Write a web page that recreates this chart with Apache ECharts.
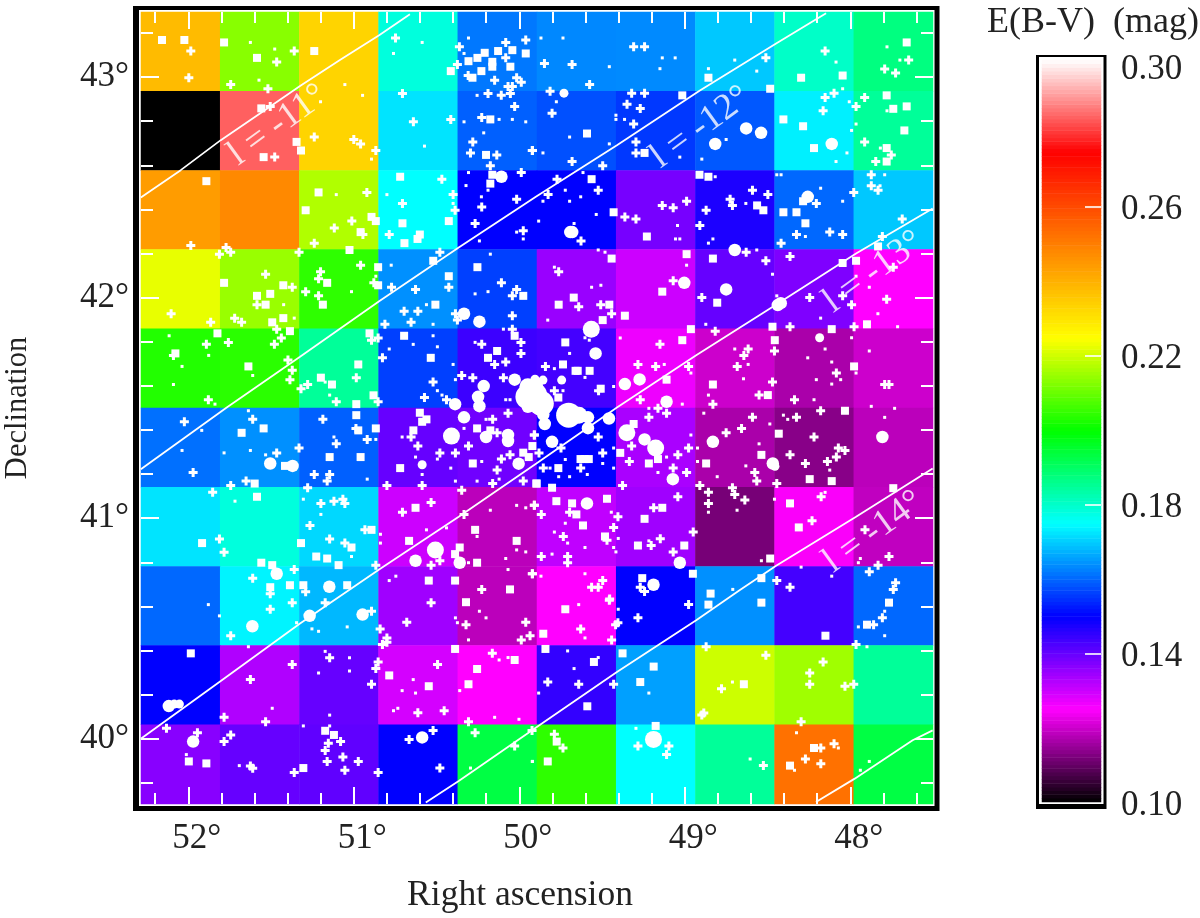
<!DOCTYPE html>
<html><head><meta charset="utf-8">
<style>html,body{margin:0;padding:0;background:#fff}#c{width:1200px;height:918px}</style>
<script src="https://cdn.jsdelivr.net/npm/echarts@6/dist/echarts.min.js"></script>
</head><body><div id="c"></div>
<script>
const raBins=['52.1','51.6','51.1','50.6','50.2','49.7','49.2','48.7','48.3','47.8'];
const decBins=['43.2','42.8','42.5','42.1','41.8','41.4','41.1','40.7','40.4','40.0'];
const ebvRow1=[.2383,.2133,.2334,.1783,.1618,.1633,.1635,.1696,.1804,.1875];
const ebvRow2=[.1000,.2844,.2334,.1724,.1594,.1578,.1555,.1586,.1735,.1850];
const ebvRow3=[.2444,.2483,.2173,.1750,.1500,.1500,.1383,.1473,.1602,.1696];
const ebvRow4=[.2227,.2150,.2045,.1641,.1563,.1350,.1300,.1400,.1375,.1250];
const ebvRow5=[.2033,.2041,.1850,.1563,.1441,.1433,.1267,.1200,.1167,.1200];
const ebvRow6=[.1610,.1641,.1594,.1400,.1390,.1500,.1333,.1167,.1133,.1183];
const ebvRow7=[.1724,.1783,.1712,.1300,.1183,.1312,.1343,.1117,.1245,.1188];
const ebvRow8=[.1602,.1739,.1680,.1343,.1183,.1250,.1500,.1641,.1433,.1602];
const ebvRow9=[.1500,.1327,.1400,.1292,.1250,.1450,.1657,.2200,.2157,.1850];
const ebvRow10=[.1367,.1400,.1406,.1500,.1933,.2045,.1750,.1850,.2530,.1933];
const ebvRows=[ebvRow1,ebvRow2,ebvRow3,ebvRow4,ebvRow5,ebvRow6,ebvRow7,ebvRow8,ebvRow9,ebvRow10];

const raMajor=[52,51,50,49,48];
const raMinor=[52.2,51.8,51.6,51.4,51.2,50.8,50.6,50.4,50.2,49.8,49.6,49.4,49.2,48.8,48.6,48.4,48.2,47.8,47.6];
const decMajor=[43,42,41,40];
const decMinor=[43.2,42.8,42.6,42.4,42.2,41.8,41.6,41.4,41.2,40.8,40.6,40.4,40.2,39.8];
const barLabels=[.10,.14,.18,.22,.26,.30];
const barTicks=[.14,.18,.22,.26];

const lon11=[[52.287,42.454],[52.046,42.578],[51.804,42.714],[51.567,42.835],[51.325,42.959],[51.084,43.077],[50.847,43.190],[50.661,43.285]];
const lon12=[[52.287,41.222],[51.768,41.502],[51.325,41.732],[50.847,41.984],[50.366,42.227],[49.900,42.457],[49.410,42.691],[48.911,42.938],[48.448,43.152],[48.146,43.289]];
const lon13=[[52.287,40.000],[51.804,40.262],[51.325,40.522],[50.847,40.767],[50.366,41.006],[49.897,41.248],[49.410,41.502],[48.931,41.739],[48.468,41.959],[47.965,42.200],[47.502,42.404]];
const lon14=[[50.565,39.711],[50.366,39.808],[49.881,40.060],[49.410,40.302],[48.931,40.537],[48.669,40.673],[48.448,40.784],[47.965,41.006],[47.502,41.225]];
const lon15=[[48.207,39.713],[47.973,39.819],[47.623,39.993],[47.502,40.038]];
const lonLabels=[[51.459,42.782,'l = -11°'],[48.905,42.772,'l = -12°'],[47.860,42.116,'l = -13°'],[47.860,40.937,'l = -14°']];

const starsSquare=[[52.159,43.168],[52.024,43.168],[51.784,43.157],[51.585,43.087],[51.239,43.118],[50.414,43.027],[50.307,43.072],[50.253,43.087],[50.209,43.110],[50.128,43.118],[50.042,43.122],[49.961,43.107],[50.163,43.069],[50.163,43.047],[50.229,43.027],[50.054,43.047],[50.283,42.997],[51.559,42.858],[51.346,42.706],[51.319,42.667],[51.545,42.637],[50.175,42.808],[50.201,42.647],[51.891,42.528],[50.720,42.548],[51.213,42.477],[51.291,42.396],[50.893,42.366],[50.867,42.347],[50.959,42.297],[50.706,42.337],[50.426,42.347],[50.601,42.286],[50.615,42.266],[50.694,42.247],[50.175,42.517],[50.163,42.557],[51.026,42.216],[50.853,42.138],[50.520,42.167],[50.426,42.097],[50.253,42.138],[51.161,42.067],[51.784,42.067],[51.426,42.056],[50.853,42.056],[51.585,42.008],[51.505,42.017],[49.976,42.008],
[48.857,42.997],[48.484,42.947],[48.297,42.997],[48.046,43.007],[47.659,43.157],[47.780,42.917],[47.659,42.867],[47.740,42.856],[47.673,42.758],[47.780,42.678],[47.780,42.617],[48.404,42.808],[48.285,42.777],[48.219,42.678],[49.015,42.917],[49.243,42.656],[49.591,42.744],[48.911,42.557],[48.857,42.548],[49.563,42.537],[49.430,42.387],[49.229,42.277],[48.563,42.418],[48.525,42.396],[48.404,42.387],[48.325,42.387],[48.271,42.337],[48.285,42.437],[48.989,42.197],[49.442,42.177],[48.046,42.157],[47.965,42.167],[47.832,42.232],[49.136,42.027],[48.830,42.177],[49.671,42.000],
[51.533,41.968],[51.426,41.907],[51.493,41.888],[51.386,41.848],[51.824,41.838],[51.187,41.968],[50.507,41.968],[50.905,41.838],[50.696,41.827],[51.637,41.688],[50.973,41.697],[50.535,41.727],[52.078,41.747],[50.189,41.727],[50.028,41.827],[50.134,41.758],[51.199,41.637],[51.132,41.606],[50.881,41.557],[50.985,41.517],[50.985,41.467],[50.867,41.407],[51.545,41.407],[51.678,41.387],[50.601,41.478],[50.640,41.398],[50.973,41.398],[51.146,41.277],[50.959,41.277],[50.255,41.407],[50.281,41.248],[50.720,41.227],[50.175,41.398],[49.921,41.327],[49.976,41.297],[49.943,41.277],[51.599,41.157],[51.585,41.097],[50.627,41.047],[50.267,40.947],[50.893,40.947],[50.666,40.897],[50.016,40.897],[51.319,40.887],[51.917,40.887],[51.014,40.867],[50.360,40.867],[50.388,40.837],[51.227,40.826],[51.161,40.817],[51.092,40.787],[51.559,40.798],[51.493,40.787],[50.255,40.798],[50.547,40.717],[50.388,40.717],[50.056,40.677],[51.505,40.687],[51.386,40.696],[51.305,40.696],[51.040,40.696],[49.897,41.157],[50.561,41.448],[50.587,41.437],[51.416,41.237],
[49.762,41.968],[49.456,41.968],[48.804,41.977],[49.362,41.918],[49.496,41.898],[48.470,41.868],[48.112,41.857],[47.899,41.879],[48.963,41.857],[49.722,41.797],[49.015,41.807],[48.456,41.807],[49.736,41.697],[49.647,41.668],[49.660,41.668],[49.575,41.668],[47.977,41.688],[48.830,41.606],[49.110,41.628],[48.498,41.558],[49.764,41.547],[49.508,41.587],[48.032,41.487],[49.309,41.427],[49.390,41.296],[48.537,41.287],[48.432,41.383],[48.871,41.248],[49.217,41.248],[49.162,41.268],[49.764,41.227],[49.605,41.268],[49.630,41.268],[49.580,41.268],[48.112,41.168],[48.245,41.177],[49.895,41.157],[49.802,41.138],[49.776,41.077],[49.681,41.067],[49.655,41.017],[49.615,40.967],[49.470,41.088],[49.136,41.047],[49.243,40.997],[48.364,41.067],[48.311,40.958],[49.482,40.917],[49.283,40.876],[49.003,40.876],[48.484,40.817],[47.740,41.136],[49.257,40.728],[48.951,40.748],[48.537,40.728],[48.844,40.658],
[51.985,40.387],[50.322,40.619],[50.388,40.407],[50.786,40.287],[50.255,40.316],[50.028,40.357],[50.307,40.247],[50.547,40.238],[51.173,40.036],[51.120,40.017],[51.997,39.897],[51.891,39.888],[51.305,39.867],
[49.722,40.587],[49.855,40.476],[49.842,40.407],[49.549,40.348],[49.589,40.147],[49.376,40.387],[49.188,40.327],[49.269,40.257],[48.857,40.608],[48.537,40.617],[48.150,40.467],[47.766,40.617],[47.899,40.517],[48.643,40.247],[49.176,40.058],[49.774,39.987],[49.828,39.897],[48.219,39.958],[48.364,39.878]];

const starsPlus=[[51.985,43.118],[51.997,42.997],[51.360,43.118],[51.466,43.068],[51.744,42.966],[51.519,42.947],[50.748,43.177],[50.362,43.137],[50.374,43.057],[50.082,43.157],[49.961,43.168],[50.082,43.087],[50.149,42.986],[50.016,42.997],[49.988,42.977],[50.068,42.957],[50.042,42.957],[50.309,43.007],[50.706,42.926],[50.189,42.926],[50.109,42.917],[50.054,42.926],[50.028,42.867],[50.227,42.817],[50.640,42.797],[50.414,42.808],[51.505,42.867],[51.239,42.728],[51.000,42.717],[50.959,42.697],[50.867,42.667],[51.478,42.637],[50.281,42.706],[50.295,42.656],[50.136,42.647],[50.175,42.598],[49.921,42.667],[49.988,42.567],[50.468,42.537],[50.400,42.467],[50.706,42.427],[50.388,42.396],[50.227,42.411],[50.016,42.446],[50.267,42.336],[50.921,42.477],[51.012,42.347],[51.118,42.316],[51.239,42.247],[50.945,42.286],[50.786,42.286],[49.976,42.303],[51.985,42.236],[51.772,42.227],[51.744,42.206],[51.812,42.197],[51.331,42.206],[50.480,42.206],[50.959,42.147],[51.201,42.117],[51.213,42.086],[51.533,42.106],[50.879,42.067],[51.372,42.047],[51.291,42.027],[51.213,42.008],[50.772,42.047],[50.627,42.037],[50.426,42.047],[50.108,42.067],[50.016,42.037],[50.042,42.008],
[49.309,43.137],[49.243,43.137],[49.848,43.062],[49.681,43.057],[49.575,42.966],[48.510,43.087],[48.152,43.118],[47.792,43.037],[47.726,43.018],[47.647,43.077],[49.814,42.936],[49.802,42.836],[49.321,42.927],[49.243,42.927],[49.349,42.877],[49.269,42.858],[49.309,42.787],[49.295,42.706],[49.295,42.656],[49.681,42.617],[49.496,42.598],[48.152,42.907],[48.098,42.927],[48.164,42.847],[47.965,42.867],[47.913,42.907],[47.913,42.706],[47.752,42.647],[47.846,42.617],[49.921,42.667],[49.772,42.537],[49.826,42.467],[49.523,42.487],[49.627,42.257],[49.362,42.366],[49.295,42.357],[49.136,42.418],[49.070,42.407],[48.989,42.437],[48.591,42.487],[48.498,42.467],[48.726,42.446],[48.712,42.418],[48.871,42.396],[48.909,42.327],[48.205,42.427],[47.979,42.477],[47.873,42.557],[47.873,42.507],[47.832,42.487],[47.686,42.357],[48.325,42.286],[48.124,42.297],[48.046,42.286],[48.418,42.247],[47.806,42.277],[48.629,42.206],[48.510,42.167],[48.364,42.186],[49.762,42.117],[49.070,42.077],[48.897,42.000],[48.245,42.000],[48.046,42.008],[47.740,42.138],[47.780,41.993],
[52.104,41.927],[51.865,41.888],[51.585,41.968],[51.720,41.907],[51.678,41.888],[51.466,41.857],[51.438,41.817],[51.480,41.788],[51.891,41.788],[51.758,41.797],[52.090,41.738],[51.398,41.717],[51.372,41.671],[51.386,41.628],[51.319,41.587],[51.279,41.606],[51.879,41.537],[51.106,41.528],[50.985,41.637],[50.853,41.528],[50.812,41.879],[50.696,41.938],[50.613,41.938],[50.654,41.888],[50.386,41.927],[50.374,41.898],[50.042,41.918],[50.893,41.807],[50.853,41.817],[50.827,41.727],[50.521,41.617],[50.573,41.547],[50.440,41.537],[50.227,41.788],[50.042,41.857],[49.990,41.797],[49.990,41.747],[50.082,41.708],[50.149,41.697],[50.348,41.647],[50.281,41.637],[50.096,41.637],[52.024,41.437],[51.611,41.448],[51.187,41.448],[51.971,41.207],[51.466,41.296],[51.331,41.318],[51.106,41.337],[51.239,41.198],[51.146,41.198],[51.161,41.168],[51.651,41.168],[51.744,41.148],[51.279,41.138],[50.987,41.407],[50.919,41.357],[50.654,41.368],[50.613,41.327],[50.480,41.296],[50.386,41.296],[50.307,41.327],[50.161,41.448],[50.068,41.476],[50.134,41.387],[49.909,41.377],[50.108,41.268],[50.056,41.287],[50.134,41.218],[50.161,41.157],[49.976,41.168],[50.587,41.148],[50.800,41.148],[50.348,41.127],[51.853,41.117],[51.199,41.067],[51.120,41.077],[51.066,41.086],[51.054,41.067],[50.533,41.071],[50.706,41.027],[50.334,41.017],[49.909,41.058],[51.265,40.967],[50.933,40.947],[51.146,40.906],[51.054,40.887],[51.812,40.906],[51.784,40.846],[50.867,40.787],[50.533,40.787],[50.480,40.807],[51.360,40.767],[51.611,40.728],[49.921,40.748],[50.227,40.677],[51.505,40.657],[51.291,40.666],
[49.641,41.959],[49.508,41.968],[49.442,41.927],[47.992,41.968],[48.364,41.868],[47.977,41.868],[48.816,41.848],[49.150,41.788],[48.617,41.767],[48.458,41.758],[48.643,41.738],[48.683,41.688],[49.283,41.697],[49.176,41.688],[48.977,41.688],[49.842,41.688],[48.470,41.617],[48.084,41.658],[47.792,41.606],[47.766,41.606],[49.788,41.578],[49.521,41.578],[48.551,41.558],[48.337,41.537],[49.269,41.537],[48.830,41.517],[48.179,41.487],[49.162,41.498],[49.110,41.476],[49.217,41.457],[48.591,41.457],[48.325,41.457],[48.657,41.407],[48.750,41.387],[48.219,41.368],[49.909,41.377],[49.523,41.368],[48.072,41.318],[48.032,41.307],[48.977,41.318],[49.321,41.327],[49.042,41.287],[49.496,41.296],[49.881,41.296],[49.748,41.318],[49.335,41.257],[49.855,41.227],[49.629,41.227],[49.070,41.227],[48.989,41.207],[48.364,41.287],[48.271,41.248],[48.084,41.277],[48.138,41.257],[48.577,41.207],[48.565,41.168],[48.444,41.157],[48.909,41.148],[49.376,41.148],[48.712,41.138],[48.698,41.107],[48.857,41.117],[48.857,41.067],[48.637,41.082],[49.042,41.097],[48.176,41.097],[49.188,41.047],[49.909,41.058],[49.867,41.017],[49.696,41.027],[49.404,41.006],[49.430,40.958],[48.231,40.988],[48.949,40.937],[49.734,40.917],[49.148,40.907],[49.203,40.876],[49.470,40.900],[49.070,40.847],[49.708,40.826],[49.708,40.798],[49.867,40.826],[47.911,40.947],[47.766,40.826],[47.832,40.787],[47.885,40.757],[49.921,40.748],[48.444,40.717],[48.364,40.687],[47.726,40.707],[47.740,40.677],[49.269,40.687],[49.243,40.667],[49.496,40.717],[49.563,40.687],[49.523,40.687],[49.454,40.633],
[50.893,40.578],[50.841,40.498],[50.800,40.457],[50.800,40.437],[50.827,40.427],[50.533,40.617],[50.680,40.528],[50.322,40.517],[49.961,40.528],[49.935,40.467],[49.988,40.448],[50.163,40.387],[51.146,40.367],[50.853,40.348],[50.867,40.318],[50.893,40.247],[51.372,40.337],[51.625,40.268],[50.494,40.337],[50.613,40.118],[50.454,40.127],[51.784,40.097],[51.533,40.077],[50.307,40.077],[52.132,40.047],[51.945,40.027],[51.744,40.017],[51.784,39.987],[51.154,39.980],[51.080,39.987],[51.173,39.947],[51.066,39.917],[51.161,39.897],[50.973,39.897],[51.054,39.857],[51.360,39.847],[50.853,39.847],[51.625,39.876],[51.611,39.866],[50.666,39.997],[50.521,40.037],[50.480,39.867],[50.267,40.027],[50.028,39.967],[49.923,40.037],[51.505,40.587],[51.372,40.617],[51.173,40.617],[51.744,40.467],
[49.456,40.628],[48.977,40.608],[49.283,40.548],[49.404,40.526],[49.418,40.517],[49.629,40.498],[49.442,40.448],[47.859,40.517],[47.806,40.548],[47.965,40.427],[48.871,40.417],[48.510,40.378],[48.164,40.348],[48.245,40.298],[48.245,40.247],[48.032,40.238],[47.979,40.247],[48.778,40.227],[48.885,40.117],[48.897,40.107],[48.297,40.077],[49.828,40.257],[49.641,40.247],[49.430,40.247],[49.788,40.020],[49.736,39.958],[49.283,39.967],[49.096,39.967],[49.110,39.928],[48.525,39.878],[48.098,39.977],[48.178,39.958],[48.271,39.908],[48.178,39.887]];

const starsDot=[[51.625,43.157],[51.478,43.127],[51.573,42.986],[50.587,43.157],[50.760,43.107],[50.307,43.177],[50.334,43.107],[51.054,42.966],[50.947,42.917],[51.201,42.888],[50.893,42.628],[50.573,42.687],[50.255,42.917],[50.334,42.797],[50.122,42.808],[50.042,42.808],[49.961,42.797],[50.215,42.747],[50.307,42.567],[50.322,42.508],[50.189,42.487],[50.229,42.457],[50.800,42.467],[51.106,42.467],[50.400,42.427],[50.016,42.297],[49.976,42.266],[50.241,42.257],[50.175,42.197],[50.774,42.147],[50.189,42.027],[50.267,42.017],[50.867,42.097],[51.014,42.027],
[49.869,43.177],[49.736,43.177],[49.456,43.047],[49.136,43.087],[49.058,43.087],[49.150,43.038],[48.857,43.038],[48.698,43.077],[48.565,43.027],[48.086,43.068],[47.778,43.137],[47.700,43.077],[49.776,42.888],[49.416,42.827],[49.416,42.808],[49.364,42.808],[49.696,42.728],[49.456,42.697],[49.857,42.656],[49.030,42.637],[48.897,42.628],[48.750,42.717],[48.046,42.947],[48.006,42.888],[47.778,42.847],[47.965,42.787],[47.992,42.758],[48.020,42.656],[48.086,42.617],[47.818,42.678],[48.816,42.548],[48.444,42.557],[48.418,42.557],[47.792,42.557],[47.820,42.507],[49.615,42.567],[49.722,42.487],[49.857,42.437],[49.696,42.437],[49.629,42.457],[49.535,42.377],[49.883,42.347],[49.669,42.336],[49.044,42.327],[49.056,42.266],[49.030,42.266],[48.631,42.427],[48.830,42.266],[48.857,42.247],[48.179,42.496],[48.046,42.437],[48.271,42.277],[48.565,42.216],[49.523,42.216],[49.482,42.206],[49.788,42.138],[48.989,42.147],[49.563,42.047],[49.507,42.056],[48.470,42.106],[48.444,42.008],[47.965,42.097],[47.885,42.047],
[52.116,41.827],[51.877,41.738],[52.038,41.688],[52.090,41.606],[51.839,41.517],[51.611,41.647],[51.637,41.487],[51.424,41.968],[51.360,41.907],[50.521,41.879],[50.561,41.968],[50.521,41.827],[50.641,41.788],[50.495,41.777],[50.786,41.767],[50.400,41.697],[50.386,41.628],[50.495,41.578],[50.467,41.558],[51.173,41.617],[51.146,41.558],[50.267,41.797],[50.096,41.857],[50.082,41.537],[50.056,41.537],[51.919,41.398],[52.038,41.307],[51.784,41.296],[51.625,41.307],[51.533,41.287],[51.120,41.368],[50.867,41.357],[50.919,41.177],[50.708,41.368],[50.627,41.277],[50.495,41.268],[50.414,41.227],[50.587,41.198],[50.386,41.168],[50.255,41.168],[50.122,41.177],[50.227,41.257],[50.334,41.407],[50.201,41.448],[51.718,41.077],[51.305,41.086],[51.199,41.017],[50.561,40.947],[50.440,40.956],[50.175,41.036],[50.016,41.058],[49.961,41.047],[50.255,40.917],[50.082,40.817],[50.068,40.767],[49.961,40.847],[50.016,40.856],[51.014,40.826],[50.839,40.927],[50.839,40.887],[50.786,40.717],[50.746,40.737],[50.307,40.798],
[49.828,41.898],[48.873,41.879],[47.833,41.927],[47.714,41.868],[48.179,41.907],[49.390,41.817],[49.577,41.807],[49.603,41.818],[49.696,41.747],[49.788,41.678],[49.603,41.638],[49.430,41.597],[49.736,41.578],[49.124,41.697],[48.963,41.658],[48.698,41.767],[48.617,41.697],[48.645,41.632],[48.857,41.558],[49.015,41.517],[48.257,41.727],[48.152,41.767],[48.112,41.708],[48.058,41.628],[48.205,41.628],[48.112,41.608],[48.219,41.537],[47.885,41.758],[47.992,41.818],[47.965,41.658],[47.873,41.507],[47.732,41.498],[47.792,41.457],[48.885,41.476],[49.217,41.498],[48.963,41.377],[48.923,41.318],[48.486,41.427],[48.404,41.467],[48.378,41.448],[48.551,41.337],[49.110,41.277],[48.923,41.257],[48.124,41.218],[49.162,41.207],[48.804,41.188],[48.631,41.237],[49.696,41.188],[49.762,41.188],[49.814,41.227],[49.589,41.198],[49.496,41.248],[49.430,41.227],[49.430,41.318],[49.722,41.266],[48.458,41.086],[48.684,41.036],[48.152,41.117],[48.857,41.027],[49.444,41.027],[49.722,40.977],[49.788,40.937],[49.603,40.867],[49.402,40.908],[49.430,40.867],[49.416,40.847],[49.802,40.837],[49.708,40.887],[49.217,40.897],[48.537,40.807],[47.939,40.817],[47.951,40.798],[48.297,40.778],[48.112,40.737],[49.869,40.737],[49.603,40.748],[48.710,40.677],
[51.879,40.608],[51.812,40.557],[51.637,40.417],[51.346,40.526],[51.253,40.498],[51.213,40.487],[51.040,40.507],[50.386,40.548],[50.374,40.526],[50.241,40.578],[50.201,40.548],[50.307,40.448],[51.173,40.396],[51.026,40.367],[51.026,40.307],[51.213,40.298],[50.641,40.268],[50.708,40.218],[50.627,40.207],[50.360,40.218],[50.122,40.357],[50.068,40.368],[51.493,40.138],[51.146,40.107],[50.760,40.127],[50.734,40.138],[50.149,40.097],[50.002,40.088],[51.305,40.058],[51.146,40.058],[52.012,39.928],[51.692,39.878],[50.295,39.867],[49.921,39.897],
[49.641,40.608],[49.402,40.587],[49.603,40.457],[47.951,40.507],[47.792,40.578],[47.792,40.467],[47.899,40.417],[49.708,40.398],[49.523,40.368],[49.669,40.318],[49.883,40.207],[49.217,40.207],[48.712,40.257],[49.295,40.047],[48.325,40.027],[48.072,39.958],[48.337,39.857],[49.921,39.897],[48.605,39.908],[47.885,39.897],[47.939,39.857]];

const starsDiscMid=[[50.108,42.548],[48.629,42.767],[48.539,42.747],[48.112,42.697],[48.816,42.697],[48.257,42.457],[49.692,42.297],[49.680,42.297],[48.698,42.216],[48.750,42.037],[49.003,42.067],[50.334,41.927],[50.241,41.891],[50.215,41.599],[50.249,41.550],[50.241,41.508],[50.388,41.517],[50.028,41.628],[49.897,41.611],[50.334,41.457],[50.201,41.368],[50.068,41.377],[50.068,41.350],[50.004,41.247],[51.505,41.248],[51.370,41.237],[51.466,40.748],[51.148,40.689],[50.627,40.807],[50.360,40.798],[49.539,41.747],[49.273,41.629],[49.362,41.608],[49.110,41.528],[49.846,41.427],[49.585,41.457],[49.585,41.408],[49.458,41.452],[49.243,41.357],[49.802,41.346],[48.830,41.346],[49.072,41.177],[49.591,41.067],[49.030,40.798],[47.806,41.368],[49.189,40.698],[48.468,41.248],[48.438,41.966],[48.420,41.975],[51.613,40.510],[51.267,40.557],[50.947,40.563],[51.971,39.987],[50.587,40.006],[52.118,40.148],[49.948,41.505],[49.855,41.470],[49.905,41.510]];
const starsDiscSmall=[[49.730,42.927],[50.587,41.242],[48.185,41.818],[49.857,41.626],[49.744,41.626],[48.455,41.235],[52.054,40.157],[52.085,40.157],[49.905,41.630],[49.860,41.560]];
const starsDiscLarge=[[49.189,39.997],[50.507,40.856],[49.176,41.318],[49.350,41.387],[49.565,41.857],[50.410,41.372],[49.948,41.596],[49.907,41.596],[49.640,41.467]];
const starsDiscHuge=[[49.948,41.550],[49.907,41.558],[49.867,41.520],[49.702,41.467]];

const plusPath='path://M3 0H6V3H9V6H6V9H3V6H0V3H3Z';
const starSeries=(data,symbol,size)=>({type:'scatter',xAxisIndex:0,yAxisIndex:0,data,symbol,symbolSize:size,z:4,silent:true,
  itemStyle:{color:'#fff',opacity:1},clip:true});
const lonSeries=d=>({type:'line',xAxisIndex:0,yAxisIndex:0,data:d,symbol:'none',z:3,silent:true,clip:true,
  lineStyle:{color:'#fff',width:1.8}});

const TXT='#222',FONT='"Liberation Serif"';
const RA=[47.5,52.286],DEC=[39.704,43.295];
const tickAxis=(base,vals,len,extra)=>Object.assign({type:'value',inverse:base.inverse,min:base.min,max:base.max,position:base.position,
  axisLine:{show:false,onZero:false},splitLine:{show:false},
  axisTick:{show:true,inside:true,length:len,customValues:vals,lineStyle:{color:'#fff',width:2}},
  axisLabel:{show:false},z:6},extra||{});
const X={inverse:true,min:RA[0],max:RA[1]},Y={min:DEC[0],max:DEC[1]};

const heat=[];ebvRows.forEach((r,j)=>r.forEach((v,i)=>heat.push([i,j,v])));

// colour-bar ramp: one band per step of the scale, low to high
const RAMP_STEPS=200;
const rampLevels=[];for(let i=0;i<RAMP_STEPS;i++)rampLevels.push(+(0.10+(i+0.5)*0.2/RAMP_STEPS).toFixed(5));
const rampCells=rampLevels.map((v,i)=>[0,i,v]);

const option={
 animation:false,backgroundColor:'#fff',
 graphic:{elements:[
  {type:'rect',z:0,shape:{x:133,y:6,width:806.5,height:805},style:{fill:'#000'}},
  {type:'rect',z:0,shape:{x:139,y:10,width:795.5,height:796},style:{fill:'#fff'}},
  {type:'rect',z:0,shape:{x:1036,y:55,width:70.5,height:754},style:{fill:'#000'}},
  {type:'rect',z:0,shape:{x:1039,y:57,width:64.5,height:747},style:{fill:'#fff'}},
  {type:'text',z:5,x:987,y:5,style:{text:'E(B-V)  (mag)',font:'36px "Liberation Serif"',fill:TXT}}
 ]},
 grid:[{left:141,top:12,width:792,height:792,outerBoundsMode:'none'},
       {left:1042,top:58,width:59,height:745,outerBoundsMode:'none'},
       {left:1042,top:60,width:59,height:742,outerBoundsMode:'none'}],
 xAxis:[
  tickAxis(Object.assign({position:'bottom'},X),raMajor,17,{
    axisLabel:{show:true,customValues:raMajor,formatter:v=>v+'°',color:TXT,fontFamily:FONT,fontSize:35,margin:17,padding:[0,0,0,17]},
    name:'Right ascension',nameLocation:'middle',nameGap:74,nameTextStyle:{color:TXT,fontFamily:FONT,fontSize:35.5,padding:[0,34,0,0]}}),
  tickAxis(Object.assign({position:'bottom'},X),raMinor,11),
  tickAxis(Object.assign({position:'top'},X),raMajor,17),
  tickAxis(Object.assign({position:'top'},X),raMinor,11),
  {type:'category',data:raBins,show:false,gridIndex:0},
  {type:'value',gridIndex:1,min:0,max:1,show:false,axisLine:{onZero:false}},
  {type:'category',data:['E(B-V)'],show:false,gridIndex:2}
 ],
 yAxis:[
  tickAxis(Object.assign({position:'left'},Y),decMajor,18,{
    axisLabel:{show:true,customValues:decMajor,formatter:v=>v+'°',color:TXT,fontFamily:FONT,fontSize:35,margin:12,padding:[2,0,0,0]},
    name:'Declination',nameLocation:'middle',nameGap:108,nameTextStyle:{color:TXT,fontFamily:FONT,fontSize:30.5}}),
  tickAxis(Object.assign({position:'left'},Y),decMinor,12),
  tickAxis(Object.assign({position:'right'},Y),decMajor,18),
  tickAxis(Object.assign({position:'right'},Y),decMinor,12),
  {type:'category',data:decBins,inverse:true,show:false,gridIndex:0},
  {type:'value',gridIndex:1,min:.10,max:.30,position:'right',z:8,
   axisLine:{show:false,onZero:false},splitLine:{show:false},
   axisTick:{show:true,inside:true,length:16,customValues:barTicks,lineStyle:{color:'#fff',width:1.6}},
   axisLabel:{show:true,customValues:barLabels,margin:20,color:TXT,fontFamily:FONT,fontSize:35,padding:[6,0,0,0],
     formatter:v=>Math.abs(v-.3)<1e-6?'{t|'+v.toFixed(2)+'}':v.toFixed(2),
     rich:{t:{color:TXT,fontFamily:FONT,fontSize:35,padding:[18,0,0,0]}}}},
  {type:'category',data:rampLevels,show:false,gridIndex:2}
 ],
 visualMap:{type:'continuous',seriesIndex:[0,1],min:.10,max:.30,calculable:false,show:false,
  inRange:{color:['#000000','#ff00ff','#0000ff','#00ffff','#00ff00','#ffff00','#ff8000','#ff0000','#ffffff']}},
 series:[
  {type:'heatmap',xAxisIndex:4,yAxisIndex:4,data:heat,z:1,silent:true,progressive:0,itemStyle:{borderWidth:0}},
  {type:'heatmap',xAxisIndex:6,yAxisIndex:6,data:rampCells,z:1,silent:true,progressive:0,itemStyle:{borderWidth:0}},
  lonSeries(lon11),lonSeries(lon12),lonSeries(lon13),lonSeries(lon14),lonSeries(lon15),
  starSeries(starsSquare,'rect',8),
  starSeries(starsPlus,plusPath,9),
  starSeries(starsDot,'rect',3),
  starSeries(starsDiscSmall,'circle',9),
  starSeries(starsDiscMid,'circle',12.5),
  starSeries(starsDiscLarge,'circle',17),
  starSeries(starsDiscHuge,'circle',25),
  {type:'scatter',xAxisIndex:0,yAxisIndex:0,data:lonLabels.map(d=>({value:[d[0],d[1]],name:d[2]})),symbolSize:0,z:5,silent:true,
   label:{show:true,position:'inside',formatter:'{b}',rotate:36,color:'#fff',fontFamily:FONT,fontSize:37}}
 ]
};
echarts.init(document.getElementById('c'),null,{renderer:'canvas'}).setOption(option);
</script></body></html>
